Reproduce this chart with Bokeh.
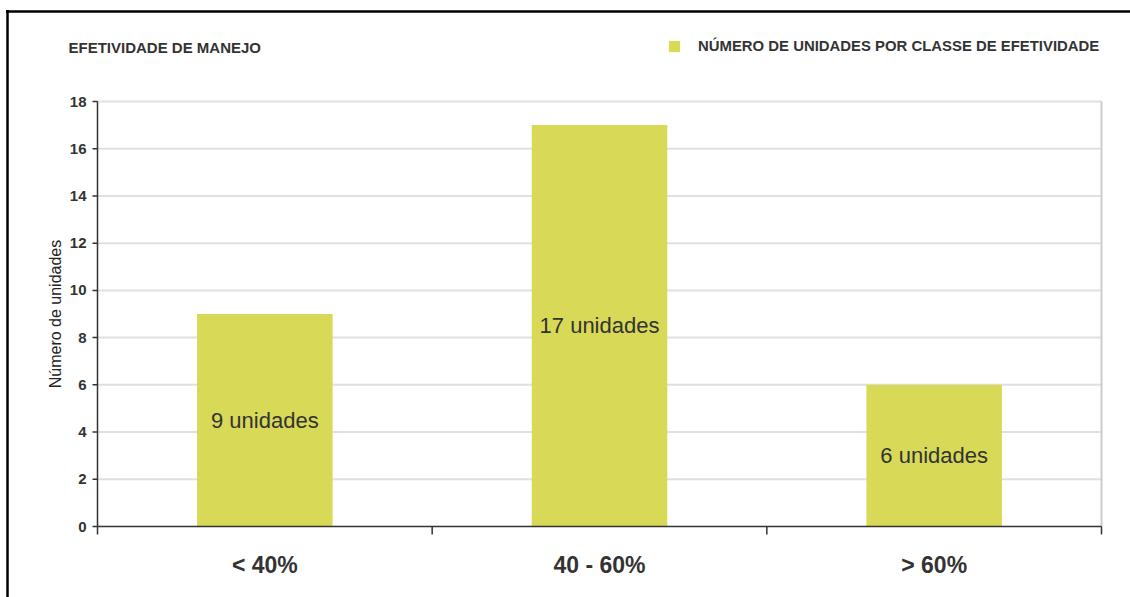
import math
from bokeh.plotting import figure
from bokeh.models import Range1d, Label, Legend, LegendItem, ColumnDataSource
from bokeh.embed import file_html
from bokeh.resources import INLINE
from bokeh.core.properties import value

# ---- data ----
categories = ["< 40%", "40 - 60%", "> 60%"]
counts = [9, 17, 6]
bar_labels = ["9 unidades", "17 unidades", "6 unidades"]
y_ticks = [0, 2, 4, 6, 8, 10, 12, 14, 16, 18]
title_text = "EFETIVIDADE DE MANEJO"
legend_text = "NÚMERO DE UNIDADES POR CLASSE DE EFETIVIDADE"
y_label = "Número de unidades"

FONT = "Liberation Sans"
DARK = "#333333"
BAR = "#D8D957"
GRID = "#e0e0e0"
EDGE = "#cccccc"

# ---- layout (pixels, page coordinates) ----
W, H = 1130, 597
AX_L, AX_R, AX_T, AX_B = 97, 1101, 101, 526   # chart area edges
BORDER_X, BORDER_Y = 7, 11                     # outer black border (left, top)

n = len(categories)
ymax = max(y_ticks)
ux = (AX_R - AX_L) / n
uy = (AX_B - AX_T) / ymax
x_start = -AX_L / ux
x_end = n + (W - AX_R) / ux
y_start = -(H - AX_B) / uy
y_end = ymax + AX_T / uy

centers = [i + 0.5 for i in range(n)]
edges = list(range(n + 1))

src = ColumnDataSource(dict(x=centers, count=counts, label=bar_labels,
                            mid=[c / 2 for c in counts], cat=categories))

p = figure(width=W, height=H, x_range=Range1d(x_start, x_end),
           y_range=Range1d(y_start, y_end), output_backend="svg",
           toolbar_location=None, x_axis_location=None, y_axis_location=None,
           min_border=0, min_border_left=0, min_border_right=0,
           min_border_top=0, min_border_bottom=0)
p.background_fill_color = "white"
p.border_fill_color = "white"
p.outline_line_color = None
p.grid.visible = False

# outer border (top and left)
bx = x_start + BORDER_X / ux
by = y_end - BORDER_Y / uy
p.segment(x0=[bx - 1.5 / ux, bx], x1=[x_end, bx], y0=[by, by + 1.5 / uy],
          y1=[by, y_start], line_color="black", line_width=2.5)

# grid lines (behind bars)
p.segment(x0=0, x1=n, y0=y_ticks[1:], y1=y_ticks[1:], line_color=GRID, line_width=2)
# right edge of the chart area
p.segment(x0=n, x1=n, y0=0, y1=ymax, line_color=EDGE, line_width=2)

bars = p.vbar(x="x", top="count", width=0.405, source=src, fill_color=BAR,
              line_color=None)

p.text(x="x", y="mid", text="label", source=src, text_align="center",
       text_baseline="middle", text_font=value(FONT), text_font_size="22px",
       text_color=DARK)

# y axis (line, ticks, labels, title)
p.segment(x0=0, x1=0, y0=0, y1=ymax, line_color=DARK, line_width=1.5)
p.ray(x=0, y=y_ticks, length=5, length_units="screen", angle=math.pi,
      line_color=DARK, line_width=1.5)
p.text(x=0, y=y_ticks, text=[str(t) for t in y_ticks], x_offset=-11,
       text_align="right", text_baseline="middle", text_font=value(FONT),
       text_font_size="15px", text_font_style="bold", text_color=DARK)
p.text(x=[0], y=[ymax / 2], text=[y_label], x_offset=-42, angle=math.pi / 2,
       text_align="center", text_baseline="middle", text_font=value(FONT),
       text_font_size="16px", text_color="#222222")

# x axis (line, edge ticks, category labels)
p.segment(x0=0, x1=n, y0=0, y1=0, line_color=DARK, line_width=1.5)
p.ray(x=edges, y=0, length=8, length_units="screen", angle=-math.pi / 2,
      line_color=DARK, line_width=1.5)
p.text(x="x", y=0, text="cat", source=src, y_offset=38, text_align="center",
       text_baseline="middle", text_font=value(FONT), text_font_size="23px",
       text_font_style="bold", text_color=DARK)

# title
p.add_layout(Label(x=68, y=H - 47, x_units="screen", y_units="screen",
                   text=title_text, text_font=FONT, text_font_size="15px",
                   text_font_style="bold", text_color=DARK,
                   text_baseline="middle", text_align="left"))

legend = Legend(items=[LegendItem(label=legend_text, renderers=[bars])],
                location=(667, H - 54), orientation="horizontal",
                padding=0, margin=0, spacing=0,
                border_line_color=None, background_fill_alpha=0,
                glyph_width=14, glyph_height=14, label_standoff=17,
                label_height=14, label_text_font=FONT,
                label_text_font_size="14.9px", label_text_font_style="bold",
                label_text_color=DARK, label_text_baseline="middle")
p.add_layout(legend, "center")

open("out.html", "w").write(file_html(p, INLINE))
